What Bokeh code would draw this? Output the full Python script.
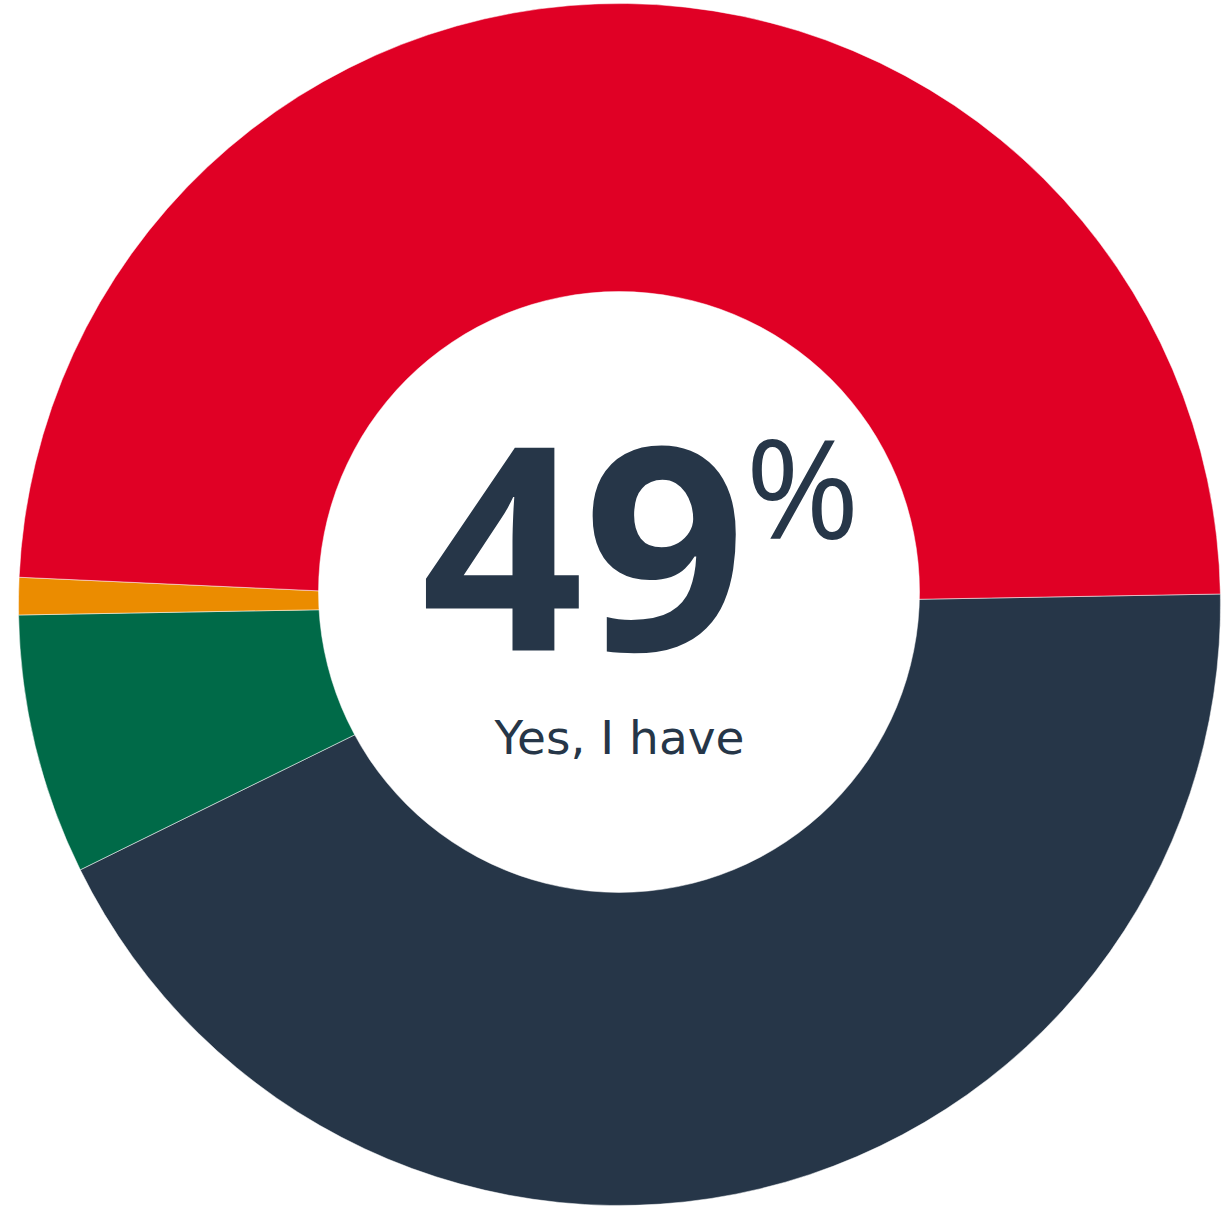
import math
from bokeh.plotting import figure
from bokeh.models import ColumnDataSource, Range1d
from bokeh.core.properties import value
from bokeh.embed import file_html
from bokeh.resources import INLINE

# Data
categories = ["No, I haven't", "Not sure", "Prefer not to say", "Yes, I have"]
shares = [43, 7, 1, 49]
colors = ["#263648", "#006A48", "#EB8C00", "#E00025"]
headline_value = "49"
headline_label = "Yes, I have"

W, H = 1230, 1210
cx, cy = 619, H - 604
r_out = 601
hole_x, hole_y, r_in = 618.5, H - 591.5, 300.5
start_deg = 1.0

starts, ends = [], []
a = math.radians(start_deg)
total = sum(shares)
for s in shares:
    starts.append(a)
    a -= 2 * math.pi * s / total
    ends.append(a)

src = ColumnDataSource(dict(cat=categories, share=shares, color=colors,
                            start=starts, end=ends,
                            x=[cx] * len(shares), y=[cy] * len(shares)))

p = figure(width=W, height=H, output_backend="svg", toolbar_location=None,
           x_range=Range1d(0, W), y_range=Range1d(0, H), min_border=0)
p.axis.visible = False
p.grid.visible = False
p.outline_line_color = None
p.background_fill_color = "white"
p.border_fill_color = "white"

p.annular_wedge(x="x", y="y", inner_radius=0, outer_radius=r_out,
                start_angle="start", end_angle="end", direction="clock",
                fill_color="color", line_color="white", line_width=0.5,
                source=src)
p.ellipse(x=[hole_x], y=[hole_y], width=2 * r_in, height=2 * r_in,
          fill_color="white", line_color="white", line_width=0.5)

p.text(x=[583], y=[H - 650 + 102], text=[headline_value], text_align="center",
       text_baseline="alphabetic", text_font=value("Open Sans"),
       text_font_style="bold", text_font_size="284px", text_color="#263648")
p.text(x=[745], y=[H - 540 + 56], text=["%"], text_align="left",
       text_baseline="alphabetic", text_font=value("Open Sans"),
       text_font_size="138px", text_color="#263648")
p.text(x=[cx], y=[H - 756 + 19], text=[headline_label], text_align="center",
       text_baseline="alphabetic", text_font=value("DejaVu Sans"),
       text_font_size="47px", text_color="#263648")

open("out.html", "w").write(file_html(p, INLINE))
